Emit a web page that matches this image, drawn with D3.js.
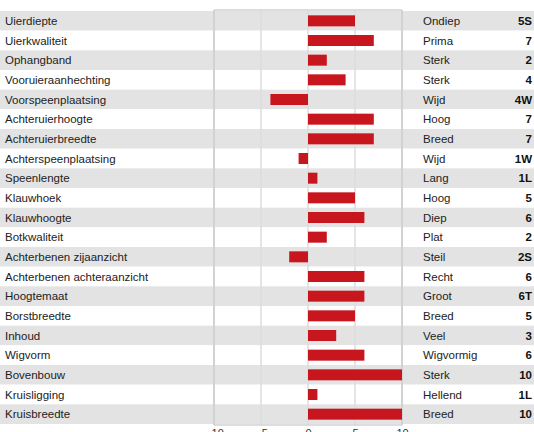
<!DOCTYPE html>
<html>
<head>
<meta charset="utf-8">
<script src="https://cdn.jsdelivr.net/npm/d3@7"></script>
<style>
  html, body { margin: 0; padding: 0; background: #fff; }
  svg { display: block; font-family: "Liberation Sans", Arial, Helvetica, sans-serif; }
</style>
</head>
<body>
<svg id="chart" width="534" height="432"></svg>
<script>
// Linear scoring traits, their scores and descriptive labels
const traits = [
  "Uierdiepte", "Uierkwaliteit", "Ophangband", "Vooruieraanhechting",
  "Voorspeenplaatsing", "Achteruierhoogte", "Achteruierbreedte",
  "Achterspeenplaatsing", "Speenlengte", "Klauwhoek", "Klauwhoogte",
  "Botkwaliteit", "Achterbenen zijaanzicht", "Achterbenen achteraanzicht",
  "Hoogtemaat", "Borstbreedte", "Inhoud", "Wigvorm", "Bovenbouw",
  "Kruisligging", "Kruisbreedte"
];
const scores = [5, 7, 2, 4, -4, 7, 7, -1, 1, 5, 6, 2, -2, 6, 6, 5, 3, 6, 10, 1, 10];
const descriptions = [
  "Ondiep", "Prima", "Sterk", "Sterk", "Wijd", "Hoog", "Breed", "Wijd",
  "Lang", "Hoog", "Diep", "Plat", "Steil", "Recht", "Groot", "Breed",
  "Veel", "Wigvormig", "Sterk", "Hellend", "Breed"
];
const suffixes = ["S", "", "", "", "W", "", "", "W", "L", "", "", "", "S", "", "T", "", "", "", "", "L", ""];
const xTicks = [-10, -5, 0, 5, 10];

const svg = d3.select("#chart");
const W = 534;
const rowsTop = 11, rowsBottom = 424;
const plotLeft = 214, plotRight = 402;

const y = d3.scaleBand().domain(traits).range([rowsTop, rowsBottom]).paddingInner(0).paddingOuter(0);
const x = d3.scaleLinear().domain([-10, 10]).range([plotLeft, plotRight]);

const rows = traits.map((t, i) => ({
  trait: t, score: scores[i], desc: descriptions[i],
  label: Math.abs(scores[i]) + suffixes[i]
}));

// alternating row bands across the full width
svg.append("g").selectAll("rect").data(rows).join("rect")
  .attr("x", 0).attr("width", W)
  .attr("y", d => y(d.trait)).attr("height", y.bandwidth())
  .attr("fill", (d, i) => i % 2 === 0 ? "#e3e3e3" : "#ffffff");

// vertical gridlines
svg.append("g").selectAll("line").data(xTicks).join("line")
  .attr("x1", d => x(d)).attr("x2", d => x(d))
  .attr("y1", rowsTop - 1).attr("y2", rowsBottom + 1)
  .attr("stroke", d => (d === -10 || d === 10) ? "#d2d2d2" : "#dcdcdc")
  .attr("stroke-width", d => (d === -10 || d === 10) ? 2 : 1.5);

// frame top and bottom
svg.append("g").selectAll("line").data([rowsTop - 1, rowsBottom + 1]).join("line")
  .attr("x1", plotLeft).attr("x2", plotRight)
  .attr("y1", d => d).attr("y2", d => d)
  .attr("stroke", "#d2d2d2").attr("stroke-width", 1.5);

// score bars
const barH = 11;
svg.append("g").selectAll("rect").data(rows).join("rect")
  .attr("x", d => x(Math.min(0, d.score)))
  .attr("width", d => Math.abs(x(d.score) - x(0)))
  .attr("y", d => y(d.trait) + (y.bandwidth() - barH) / 2)
  .attr("height", barH)
  .attr("fill", "#c8161e");

const fs = 11.5;
// trait names
svg.append("g").selectAll("text").data(rows).join("text")
  .attr("x", 5).attr("y", d => y(d.trait) + y.bandwidth() / 2 + 4)
  .attr("font-size", fs).attr("fill", "#222")
  .text(d => d.trait);

// descriptions
svg.append("g").selectAll("text").data(rows).join("text")
  .attr("x", 423).attr("y", d => y(d.trait) + y.bandwidth() / 2 + 4)
  .attr("font-size", fs).attr("fill", "#222")
  .text(d => d.desc);

// score labels
svg.append("g").selectAll("text").data(rows).join("text")
  .attr("x", 532).attr("y", d => y(d.trait) + y.bandwidth() / 2 + 4)
  .attr("font-size", fs).attr("font-weight", "bold").attr("text-anchor", "end")
  .attr("fill", "#111")
  .text(d => d.label);

// bottom axis
const axis = svg.append("g").attr("transform", `translate(0,${rowsBottom + 2})`)
  .call(d3.axisBottom(x).tickValues(xTicks).tickSize(0).tickPadding(3));
axis.select(".domain").remove();
axis.selectAll("text").attr("font-size", 11).attr("fill", "#333")
  .attr("font-family", "Liberation Sans, Arial, sans-serif");
</script>
</body>
</html>
